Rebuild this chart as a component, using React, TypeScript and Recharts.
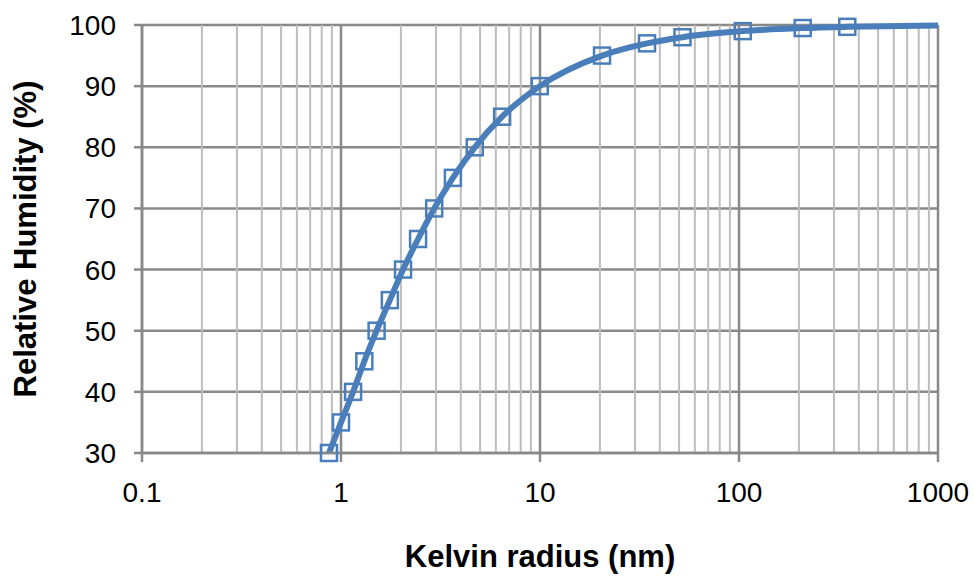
import {
  CartesianGrid,
  Label,
  Line,
  LineChart,
  ReferenceLine,
  XAxis,
  YAxis,
} from "recharts";

// Kelvin radius (nm) against relative humidity (%)
const radius = [
  0.87, 1.0, 1.15, 1.31, 1.51, 1.76, 2.05, 2.44, 2.94, 3.65, 4.7, 6.45, 9.97,
  20.5, 34.5, 52, 104.5, 209, 350, 1000,
];
const humidity = [
  30, 35, 40, 45, 50, 55, 60, 65, 70, 75, 80, 85, 90, 95, 97, 98, 99, 99.5,
  99.7, 99.9,
];
// last point only carries the line out to the edge, no marker
const hasMarker = humidity.map((_, i) => i < humidity.length - 1);

const xTicks = [0.1, 1, 10, 100, 1000];
const minorTicks = [0.1, 1, 10, 100].flatMap((d) =>
  [2, 3, 4, 5, 6, 7, 8, 9].map((m) => +(d * m).toPrecision(3))
);
const yTicks = [30, 40, 50, 60, 70, 80, 90, 100];

const data = radius.map((r, i) => ({ r, rh: humidity[i], marker: hasMarker[i] }));

const blue = "#4a7ebb";
const major = "#898989";
const minor = "#bdbdbd";
const font = "'Liberation Sans', Arial, sans-serif";

const SquareDot = (props: any) => {
  const { cx, cy, payload, index } = props;
  if (!payload?.marker || cx == null || cy == null) return <g key={index} />;
  const s = 16;
  return (
    <rect
      key={index}
      x={cx - s / 2}
      y={cy - s / 2}
      width={s}
      height={s}
      fill="none"
      stroke={blue}
      strokeWidth={2.5}
    />
  );
};

export default function App() {
  return (
    <div style={{ position: "absolute", left: 0, top: 0, background: "#fff" }}>
      <LineChart
        width={974}
        height={576}
        data={data}
        margin={{ top: 25, right: 36, left: 0, bottom: 0 }}
      >
        <CartesianGrid stroke={major} strokeWidth={2.5} />
        {minorTicks.map((v) => (
          <ReferenceLine key={v} x={v} stroke={minor} strokeWidth={2} />
        ))}
        <XAxis
          dataKey="r"
          type="number"
          scale="log"
          domain={[0.1, 1000]}
          ticks={xTicks}
          interval={0}
          allowDataOverflow
          height={123}
          stroke={major}
          strokeWidth={2.5}
          tickSize={9}
          tickMargin={20}
          tick={{ fill: "#000", fontSize: 28, fontFamily: font }}
        >
          <Label
            value="Kelvin radius (nm)"
            position="insideBottom"
            offset={9}
            style={{ fill: "#000", fontSize: 31, fontWeight: "bold", fontFamily: font }}
          />
        </XAxis>
        <YAxis
          type="number"
          domain={[30, 100]}
          ticks={yTicks}
          interval={0}
          width={142}
          stroke={major}
          strokeWidth={2.5}
          tickSize={8}
          tickMargin={18}
          tick={{ fill: "#000", fontSize: 28, fontFamily: font }}
        >
          <Label
            value="Relative Humidity (%)"
            angle={-90}
            position="insideLeft"
            offset={25}
            style={{
              fill: "#000",
              fontSize: 31,
              fontWeight: "bold",
              fontFamily: font,
              textAnchor: "middle",
            }}
          />
        </YAxis>
        <Line
          dataKey="rh"
          type="monotone"
          stroke={blue}
          strokeWidth={6}
          dot={SquareDot}
          activeDot={false}
          isAnimationActive={false}
        />
      </LineChart>
    </div>
  );
}
